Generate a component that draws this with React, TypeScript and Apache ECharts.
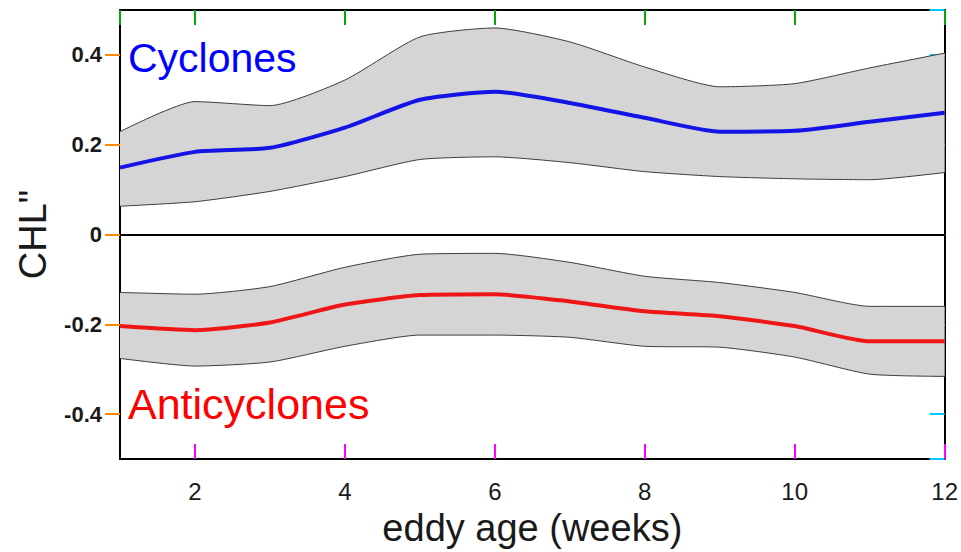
import React, { useEffect, useRef } from "react";
import * as echarts from "echarts";

// ---- data ----
const weeks = [1, 2, 3, 4, 5, 6, 7, 8, 9, 10, 11, 12];
const cycMean = [0.149, 0.184, 0.193, 0.238, 0.3, 0.318, 0.293, 0.26, 0.229, 0.231, 0.251, 0.271];
const cycUpper = [0.229, 0.296, 0.287, 0.344, 0.44, 0.46, 0.429, 0.373, 0.329, 0.336, 0.371, 0.404];
const cycLower = [0.063, 0.073, 0.096, 0.129, 0.167, 0.173, 0.16, 0.14, 0.129, 0.124, 0.122, 0.138];
const antMean = [-0.204, -0.213, -0.196, -0.156, -0.135, -0.133, -0.149, -0.171, -0.182, -0.204, -0.238, -0.238];
const antUpper = [-0.129, -0.133, -0.116, -0.073, -0.044, -0.042, -0.062, -0.093, -0.107, -0.129, -0.16, -0.16];
const antLower = [-0.276, -0.293, -0.284, -0.249, -0.224, -0.224, -0.229, -0.249, -0.251, -0.273, -0.311, -0.316];

const xTitle = "eddy age (weeks)";
const yTitle = 'CHL"';
const cycLabel = "Cyclones";
const antLabel = "Anticyclones";

const FONT = '"Liberation Sans", Arial, sans-serif';
const FILL = "#d5d5d5";
const EDGE = "#3c3c3c";
const SMOOTH = 0.2;
const DATA_X = 2; // index of the (hidden) category axis the series use

const band = (id: string, lower: number[], upper: number[]) => [
  {
    type: "line",
    name: id + "-lower",
    xAxisIndex: DATA_X,
    stack: id,
    stackStrategy: "all",
    data: lower,
    symbol: "none",
    smooth: SMOOTH,
    lineStyle: { color: EDGE, width: 1 },
    z: 4,
    silent: true,
  },
  {
    type: "line",
    name: id + "-upper",
    xAxisIndex: DATA_X,
    stack: id,
    stackStrategy: "all",
    data: upper.map((u, i) => u - lower[i]),
    symbol: "none",
    smooth: SMOOTH,
    lineStyle: { color: EDGE, width: 1 },
    areaStyle: { color: FILL, opacity: 1 },
    z: 3,
    silent: true,
  },
];

const mkLine = () => ({ show: true, onZero: false, lineStyle: { color: "#000", width: 2 } });
const mkTick = (inside: boolean, length: number, color: string) => ({
  show: true,
  inside,
  length,
  lineStyle: { color, width: 2 },
});

export default function App() {
  const ref = useRef<HTMLDivElement>(null);
  useEffect(() => {
    document.body.style.margin = "0";
    if (!ref.current) return;
    const chart = echarts.init(ref.current, undefined, { renderer: "svg" });
    chart.setOption({
      animation: false,
      textStyle: { fontFamily: FONT },
      grid: { left: 120, right: 15, top: 10, bottom: 92 },
      xAxis: [
        {
          type: "value",
          min: weeks[0],
          max: weeks[weeks.length - 1],
          position: "bottom",
          axisLine: mkLine(),
          axisTick: mkTick(true, 15, "#ff00ff"),
          axisLabel: { showMinLabel: false, margin: 20, fontSize: 24, color: "#1a1a1a", fontFamily: FONT },
          splitLine: { show: false },
          name: xTitle,
          nameLocation: "middle",
          nameGap: 50,
          nameTextStyle: { fontSize: 38, color: "#1a1a1a", fontFamily: FONT },
        },
        {
          type: "value",
          min: weeks[0],
          max: weeks[weeks.length - 1],
          position: "top",
          axisLine: mkLine(),
          axisTick: mkTick(true, 15, "#00aa00"),
          axisLabel: { show: false },
          splitLine: { show: false },
        },
        {
          type: "category",
          data: weeks,
          boundaryGap: false,
          show: false,
          axisLine: { show: false },
          axisTick: { show: false },
          axisLabel: { show: false },
          splitLine: { show: false },
        },
      ],
      yAxis: [
        {
          type: "value",
          min: -0.5,
          max: 0.5,
          splitNumber: 5,
          position: "left",
          axisLine: mkLine(),
          axisTick: mkTick(false, 15, "#ff8800"),
          axisLabel: {
            showMinLabel: false,
            showMaxLabel: false,
            margin: 18,
            fontSize: 22,
            fontWeight: "bold",
            color: "#1a1a1a",
            fontFamily: FONT,
          },
          splitLine: { show: false },
          name: yTitle,
          nameLocation: "middle",
          nameRotate: 90,
          nameGap: 68,
          nameTextStyle: { fontSize: 38, color: "#1a1a1a", fontFamily: FONT },
        },
        {
          type: "value",
          min: -0.5,
          max: 0.5,
          splitNumber: 5,
          position: "right",
          axisLine: mkLine(),
          axisTick: mkTick(true, 15, "#00ccff"),
          axisLabel: { show: false },
          splitLine: { show: false },
        },
      ],
      series: [
        ...band("cyc", cycLower, cycUpper),
        ...band("ant", antLower, antUpper),
        {
          type: "line",
          name: cycLabel,
          xAxisIndex: DATA_X,
          data: cycMean,
          symbol: "none",
          smooth: SMOOTH,
          lineStyle: { color: "#1414e6", width: 4 },
          z: 6,
          markLine: {
            silent: true,
            symbol: ["none", "none"],
            label: { show: false },
            lineStyle: { color: "#000", width: 2, type: "solid" },
            data: [{ yAxis: 0 }],
          },
        },
        {
          type: "line",
          name: antLabel,
          xAxisIndex: DATA_X,
          data: antMean,
          symbol: "none",
          smooth: SMOOTH,
          lineStyle: { color: "#ee1616", width: 4 },
          z: 6,
        },
      ],
      graphic: [
        {
          type: "text",
          x: 128,
          y: 58,
          z: 10,
          style: { text: cycLabel, fill: "#0000ff", fontSize: 41, fontFamily: FONT, align: "left", verticalAlign: "middle" },
        },
        {
          type: "text",
          x: 128,
          y: 404,
          z: 10,
          style: { text: antLabel, fill: "#ff0000", fontSize: 43, fontFamily: FONT, align: "left", verticalAlign: "middle" },
        },
      ],
    });
    return () => chart.dispose();
  }, []);
  return <div ref={ref} style={{ width: 961, height: 552 }} />;
}
